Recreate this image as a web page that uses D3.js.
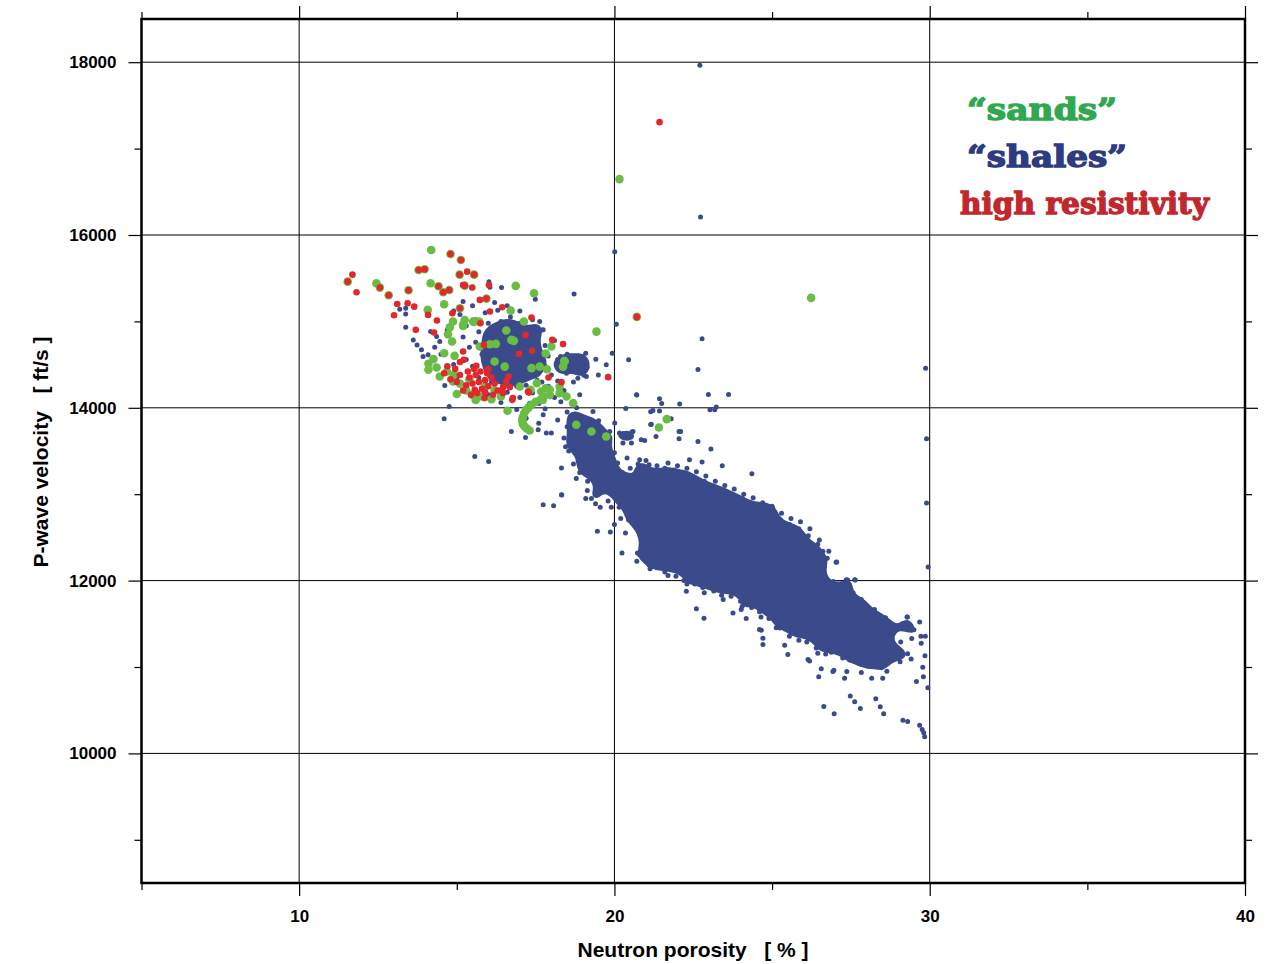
<!DOCTYPE html>
<html>
<head>
<meta charset="utf-8">
<script src="https://cdn.jsdelivr.net/npm/d3@7"></script>
<style>
 body { margin: 0; background: #fff; }
</style>
</head>
<body>
<div id="chart"></div>
<script>
var width = 1277;
var height = 964;

// axis ticks
var xTicks = [10, 20, 30, 40];
var xMinor = [5, 15, 25, 35];
var yTicks = [10000, 12000, 14000, 16000, 18000];
var yMinor = [9000, 11000, 13000, 15000, 17000];

// "shales" : [neutron porosity %, P-wave velocity ft/s]
var shales = [
 // upper left blob
 [15.1,15080],[15.3,14950],[15.2,14820],[15.4,14700],[15.3,14560],[15.5,15180],[15.6,15020],[15.7,14880],[15.6,14760],[15.8,14620],
 [15.5,14480],[15.7,14350],[15.9,15100],[16.0,14980],[16.1,14850],[15.9,14720],[16.2,14600],[16.0,14470],[16.1,14300],[16.3,15130],
 [16.4,15000],[16.3,14900],[16.5,14780],[16.4,14650],[16.6,14520],[16.3,14410],[16.5,14250],[16.7,15050],[16.8,14940],[16.6,14830],
 [16.9,14700],[16.7,14590],[16.9,14460],[16.8,14330],[16.6,14180],[17.0,14980],[17.1,14860],[17.2,14740],[17.0,14620],[17.3,14510],
 [17.1,14390],[17.2,14260],[17.0,14120],[17.4,14890],[17.5,14770],[17.4,14650],[17.6,14540],[17.5,14420],[17.7,14300],[17.4,14170],
 [17.6,14050],[17.8,14720],[17.9,14600],[17.8,14480],[18.0,14380],[17.9,14250],[18.1,14120],[17.8,13990],[18.2,14560],[18.3,14440],
 [18.2,14310],[18.4,14200],[18.3,14070],[18.5,13950],[18.2,13860],
 [15.85,14550],[16.15,14720],[16.45,14550],[16.25,14880],[16.55,14950],[16.75,14450],[16.95,14580],[17.15,14680],[16.35,14480],[16.05,14620],
 [16.65,14700],[16.85,14820],[17.35,14560],[17.55,14320],[16.2,14380],[15.95,14850],[16.6,14380],[17.25,14430],[16.4,14780],[16.9,14250],
 [16.05,14400],[16.25,14520],[16.45,14650],[16.65,14450],[16.85,14560],[17.05,14700],[17.25,14820],[16.15,14800],[16.35,14680],[16.55,14410],
 [16.75,14760],[16.95,14870],[17.15,14540],[17.35,14680],[17.45,14480],[16.3,14580],[16.7,14640],[17.0,14420],[16.5,14860],[16.1,14520],
 [17.2,14600],[16.85,14380],[17.55,14600],[16.4,14350],[16.6,14620],[17.3,14760],[16.9,14520],[16.2,14670],[17.1,14480],[16.75,14900],
 [14.3,14700],[14.5,14620],[14.7,14900],[14.9,15120],[15.0,14350],[14.9,14500],[14.6,14400],[15.2,15230],[15.8,15250],[16.2,15220],
 [16.6,15180],[17.0,15120],[17.4,15020],[17.7,14900],[18.1,14780],[18.5,14620],[18.6,14450],[18.7,14300],[18.9,14150],[18.8,14000],
 [16.0,14150],[16.4,14060],[16.9,13980],[17.2,13880],[17.6,13820],[15.6,14200],[15.3,14250],
 // scatter around the blob
 [13.19,15141],[13.38,15153],[13.38,15087],[13.38,14933],[13.62,14786],[13.74,14728],[13.88,14671],[13.93,14593],[14.09,14613],[14.17,14882],
 [14.36,14825],[14.46,14767],[14.62,14258],[14.76,14015],[14.6,13873],[15.57,13437],[16.01,13379],[16.73,13726],[17.18,13657],[17.74,12879],
 [18.07,12867],[18.33,12991],[18.79,13183],[19.09,12951],[19.27,12951],[19.4,12890],[19.14,13044],[18.32,13303],[18.32,12994],[18.72,15318],
 [16.42,15391],[16.02,15460],[16.05,15396],[20.01,15807],[20.06,14967],[19.93,14632],[20.45,14555],[20.7,14150],[17.49,15257],[17.63,14998],
 [17.74,14902],[18.9,14575],[19.09,14632],[19.11,14477],[18.84,14343],[18.29,14593],[18.58,14575],[18.24,14477],[18.48,14401],[17.54,14921],
 [17.31,14054],[17.74,13919],[17.58,13746],[17.84,13707],[18.0,13707],[18.74,13919],[18.98,13900],[19.32,13958],[19.27,13765],[19.53,13668],
 [19.85,13726],[20.16,13708],[20.43,13688],[20.59,13726],[20.85,13630],[20.96,13622],[20.27,13592],[20.54,13592],[19.41,14563],[19.49,14381],
 [19.74,14497],[19.11,14362],[18.61,14586],[18.88,14563],[19.0,14593],[19.13,14466],[19.03,14378],
 // outliers
 [22.71,17965],[22.73,16208],[22.78,14798],[22.65,14443],[20.71,14147],[21.43,14104],[21.5,14050],[22.07,14043],[22.98,14154],[23.62,14154],
 [20.36,13992],[21.15,13954],[21.22,13969],[21.43,13962],[21.8,13873],[23.03,13977],[23.18,13977],[23.23,14008],[21.15,13807],[22.05,13726],
 [21.32,13668],[20.55,13719],[20.28,13703],[20.01,13823],[21.17,13811],[22.1,13726],[22.05,13642],[22.65,13610],[23.06,13522],[23.42,13329],
 [24.36,13237],[22.38,13399],[22.78,13372],[19.46,12570],[19.87,12563],[20.24,12319],[20.71,12223],[20.73,12320],[21.13,12138],[21.35,12212],
 [22.28,11877],[22.6,11673],[22.84,11564],[24.18,11561],[24.66,11426],[24.71,11333],[24.71,11260],[25.5,11144],[26.14,11087],[26.48,10887],
 [26.93,10948],[27.3,10870],[22.6,12088],[22.91,12050],[23.23,11935],[23.76,11626],[24.02,11665],[24.6,11433],[25.13,11453],[25.55,11356],
 [25.02,12840],[24.87,12821],[24.66,12801],[25.71,12524],[25.98,12320],[26.61,12339],[27.03,12212],[27.35,12011],[27.62,12011],[27.05,12216],
 [27.4,12008],[27.64,12008],[27.11,11904],[27.3,11896],[27.83,11780],[27.88,11742],[28.25,11665],[28.6,11569],[28.51,11530],[29.29,11580],
 [25.4,11253],[26.19,11068],[26.56,10980],[26.96,10963],[27.37,10948],[27.83,10936],[28.16,10871],[28.51,10871],[28.64,10952],
 // neck
 [18.6,13600],[18.8,13480],[18.7,13350],[18.9,13700],[19.0,13560],[19.1,13420],[19.0,13290],[19.2,13800],[19.3,13650],[19.2,13520],
 [19.4,13380],[19.3,13250],[19.5,13120],[19.4,13000],[19.6,13720],[19.7,13580],[19.6,13450],[19.8,13320],[19.7,13180],[19.9,13050],
 [19.8,12920],[20.0,13480],[20.1,13360],[20.0,13230],[20.2,13110],[20.1,12980],[20.3,12850],[20.2,12720],[20.4,13420],[20.5,13300],
 [20.4,13170],[20.6,13050],[20.5,12920],[20.7,12800],[20.6,12660],[20.8,12530],[18.5,13780],[18.4,13650],[18.9,13250],[19.15,13150],
 [19.55,12850],[20.0,12650],[20.35,12550],[19.5,13850],[18.6,13900],[19.85,13600],[18.95,13850],
 [18.55,13500],[18.75,13620],[18.65,13750],[18.85,13380],[19.05,13680],[19.15,13300],[19.25,13580],[19.35,13460],[19.45,13720],[19.45,13200],
 [19.55,13540],[19.65,13300],[19.75,13460],[19.65,13050],[19.85,13200],[19.95,13400],[19.9,12850],[20.05,13100],[20.15,12850],[20.25,13250],
 [20.3,12980],[20.45,13050],[20.55,12780],[20.6,13200],[20.7,12950],[20.75,13350],[20.8,12680],[20.45,12700],[18.45,13550],[18.9,13580],
 [19.05,13780],[19.35,13820],[18.7,13800],
 // main band
 [20.9,12380],[20.96,12490],[20.85,12600],[20.93,12705],[20.87,12820],[20.97,12930],[20.86,13040],[20.94,13160],[20.89,13270],
 [21.22,12300],[21.16,12410],[21.25,12520],[21.18,12640],[21.24,12750],[21.15,12860],[21.23,12975],[21.17,13090],[21.26,13200],
 [21.5,12220],[21.55,12335],[21.46,12450],[21.53,12560],[21.48,12670],[21.56,12790],[21.47,12900],[21.54,13010],[21.49,13120],[21.52,13215],
 [21.82,12180],[21.76,12290],[21.84,12400],[21.78,12515],[21.85,12630],[21.77,12740],[21.83,12850],[21.79,12965],[21.86,13075],[21.8,13180],
 [22.1,12140],[22.15,12250],[22.06,12365],[22.13,12480],[22.08,12590],[22.16,12700],[22.07,12815],[22.14,12925],[22.09,13040],[22.12,13150],
 [22.42,12090],[22.36,12200],[22.44,12310],[22.38,12425],[22.45,12540],[22.37,12650],[22.43,12760],[22.39,12875],[22.46,12985],[22.4,13100],
 [22.7,12050],[22.75,12160],[22.66,12275],[22.73,12385],[22.68,12500],[22.76,12610],[22.67,12720],[22.74,12835],[22.69,12945],[22.72,13060],
 [23.02,12010],[22.96,12120],[23.04,12235],[22.98,12345],[23.05,12460],[22.97,12570],[23.03,12685],[22.99,12795],[23.06,12905],[23.0,13015],
 [23.3,11975],[23.35,12085],[23.26,12195],[23.33,12310],[23.28,12420],[23.36,12535],[23.27,12645],[23.34,12755],[23.29,12865],[23.32,12965],
 [23.62,11935],[23.56,12045],[23.64,12160],[23.58,12270],[23.65,12385],[23.57,12495],[23.63,12605],[23.59,12720],[23.66,12830],[23.6,12920],
 [23.9,11895],[23.95,12005],[23.86,12120],[23.93,12230],[23.88,12345],[23.96,12455],[23.87,12570],[23.94,12680],[23.89,12790],[23.92,12860],
 [24.22,11840],[24.16,11950],[24.24,12065],[24.18,12175],[24.25,12290],[24.17,12400],[24.23,12515],[24.19,12625],[24.26,12735],[24.2,12810],
 [24.5,11770],[24.55,11880],[24.46,11995],[24.53,12105],[24.48,12220],[24.56,12330],[24.47,12445],[24.54,12555],[24.49,12665],[24.52,12740],
 [24.82,11700],[24.76,11810],[24.84,11925],[24.78,12035],[24.85,12150],[24.77,12260],[24.83,12375],[24.79,12485],[24.86,12595],[24.8,12670],
 [25.1,11640],[25.15,11750],[25.06,11865],[25.13,11975],[25.08,12090],[25.16,12200],[25.07,12315],[25.14,12425],[25.09,12535],[25.12,12610],
 [25.42,11560],[25.36,11670],[25.44,11785],[25.38,11895],[25.45,12010],[25.37,12120],[25.43,12235],[25.39,12345],[25.46,12455],[25.4,12565],
 [25.7,11490],[25.75,11600],[25.66,11715],[25.73,11825],[25.68,11940],[25.76,12050],[25.67,12165],[25.74,12275],[25.69,12390],[25.72,12520],
 [26.02,11420],[25.96,11530],[26.04,11645],[25.98,11755],[26.05,11870],[25.97,11980],[26.03,12095],[25.99,12205],[26.06,12320],[26.0,12450],
 [26.3,11345],[26.35,11455],[26.26,11570],[26.33,11680],[26.28,11795],[26.36,11905],[26.27,12020],[26.34,12130],[26.29,12240],[26.32,12330],
 [26.62,11270],[26.56,11380],[26.64,11495],[26.58,11605],[26.65,11720],[26.57,11830],[26.63,11945],[26.59,12055],[26.66,12160],
 // main band, crowded middle
 [21.05,12400],[21.08,12510],[21.03,12620],[21.07,12730],[21.02,12840],[21.06,12950],[21.04,13060],[21.08,13170],
 [21.35,12350],[21.32,12460],[21.37,12570],[21.33,12680],[21.38,12790],[21.34,12900],[21.36,13010],[21.31,13120],
 [21.65,12290],[21.68,12400],[21.63,12510],[21.67,12620],[21.62,12730],[21.66,12840],[21.64,12950],[21.68,13060],[21.63,13150],
 [21.95,12250],[21.92,12360],[21.97,12470],[21.93,12580],[21.98,12690],[21.94,12800],[21.96,12910],[21.91,13020],[21.95,13110],
 [22.25,12200],[22.28,12310],[22.23,12420],[22.27,12530],[22.22,12640],[22.26,12750],[22.24,12860],[22.28,12970],[22.23,13070],
 [22.55,12150],[22.52,12260],[22.57,12370],[22.53,12480],[22.58,12590],[22.54,12700],[22.56,12810],[22.51,12920],[22.55,13030],
 [22.85,12110],[22.88,12220],[22.83,12330],[22.87,12440],[22.82,12550],[22.86,12660],[22.84,12770],[22.88,12880],[22.83,12990],
 [23.15,12080],[23.12,12190],[23.17,12300],[23.13,12410],[23.18,12520],[23.14,12630],[23.16,12740],[23.11,12850],[23.15,12950],
 [23.45,12040],[23.48,12150],[23.43,12260],[23.47,12370],[23.42,12480],[23.46,12590],[23.44,12700],[23.48,12810],[23.43,12900],
 [23.75,12000],[23.72,12110],[23.77,12220],[23.73,12330],[23.78,12440],[23.74,12550],[23.76,12660],[23.71,12770],[23.75,12850],
 [24.05,11950],[24.08,12060],[24.03,12170],[24.07,12280],[24.02,12390],[24.06,12500],[24.04,12610],[24.08,12720],[24.03,12790],
 [24.35,11890],[24.32,12000],[24.37,12110],[24.33,12220],[24.38,12330],[24.34,12440],[24.36,12550],[24.31,12660],[24.35,12730],
 [24.65,11820],[24.68,11930],[24.63,12040],[24.67,12150],[24.62,12260],[24.66,12370],[24.64,12480],[24.68,12590],[24.63,12660],
 [24.95,11750],[24.92,11860],[24.97,11970],[24.93,12080],[24.98,12190],[24.94,12300],[24.96,12410],[24.91,12520],[24.95,12590],
 [25.25,11680],[25.28,11790],[25.23,11900],[25.27,12010],[25.22,12120],[25.26,12230],[25.24,12340],[25.28,12450],[25.23,12530],
 [25.55,11610],[25.52,11720],[25.57,11830],[25.53,11940],[25.58,12050],[25.54,12160],[25.56,12270],[25.51,12380],[25.55,12470],
 [25.85,11540],[25.88,11650],[25.83,11760],[25.87,11870],[25.82,11980],[25.86,12090],[25.84,12200],[25.88,12310],[25.83,12410],
 [26.15,11470],[26.12,11580],[26.17,11690],[26.13,11800],[26.18,11910],[26.14,12020],[26.16,12130],[26.11,12240],[26.15,12330],
 [26.45,11400],[26.48,11510],[26.43,11620],[26.47,11730],[26.42,11840],[26.46,11950],[26.44,12060],[26.48,12160],
 // band fringe, upper side
 [20.8,13400],[21.0,13390],[21.1,13340],[21.35,13330],[21.6,13300],[21.7,13360],[21.9,13280],[22.0,13330],[22.25,13240],[22.3,13300],
 [22.55,13190],[22.6,13260],[22.85,13150],[22.9,13210],[23.15,13080],[23.2,13150],[23.45,13040],[23.5,13100],[23.75,12990],[23.8,13060],
 [24.05,12950],[24.1,13000],[24.35,12880],[24.4,12960],[24.65,12830],[24.7,12900],[24.95,12760],[25.0,12860],[25.25,12700],[25.3,12780],
 [25.55,12650],[25.6,12720],[25.85,12600],[25.9,12680],[26.15,12520],[26.2,12600],[26.45,12420],[26.5,12470],[26.75,12260],[26.8,12340],
 // band fringe, lower side
 [20.8,12300],[21.0,12240],[21.1,12180],[21.35,12150],[21.6,12100],[21.7,12060],[21.95,12050],[22.2,12000],[22.3,11960],[22.55,11960],
 [22.8,11920],[22.85,11860],[23.15,11880],[23.4,11830],[23.45,11780],[23.7,11820],[24.0,11760],[24.05,11700],[24.35,11690],[24.6,11640],
 [24.65,11580],[24.9,11560],[25.2,11510],[25.25,11450],[25.5,11430],[25.8,11370],[25.85,11310],[26.1,11290],[26.4,11220],[26.45,11160],[26.7,11150],
 // lower right part of the band
 [26.88,11170],[26.97,11300],[26.84,11395],[26.95,11530],[26.9,11620],[26.99,11770],[26.85,11860],[26.94,11990],
 [27.24,11105],[27.13,11235],[27.27,11380],[27.15,11455],[27.28,11600],[27.12,11690],[27.25,11830],
 [27.46,11080],[27.58,11200],[27.43,11310],[27.55,11440],[27.5,11530],[27.6,11660],[27.42,11760],[27.57,11860],
 [27.85,11030],[27.72,11140],[27.88,11290],[27.75,11380],[27.9,11510],[27.74,11600],[27.86,11740],
 [28.05,11010],[28.18,11145],[28.02,11240],[28.15,11360],[28.05,11495],[28.2,11590],[28.03,11680],
 [28.46,10990],[28.33,11110],[28.48,11245],[28.34,11340],[28.5,11470],[28.35,11560],
 [28.66,11040],[28.79,11160],[28.62,11250],[28.77,11390],[28.65,11500],
 [29.06,11060],[28.93,11200],[29.08,11290],[28.95,11430],
 [26.75,11330],[26.78,11450],[26.73,11570],[26.77,11690],[26.72,11810],[26.76,11930],
 [27.05,11230],[27.08,11350],[27.03,11470],[27.07,11590],[27.02,11710],[27.06,11830],
 [27.35,11180],[27.32,11300],[27.37,11420],[27.33,11540],[27.38,11660],[27.34,11770],
 [27.65,11110],[27.68,11240],[27.63,11350],[27.67,11470],[27.62,11580],[27.66,11700],
 [27.95,11090],[27.92,11210],[27.97,11330],[27.93,11450],[27.98,11560],
 [28.25,11060],[28.28,11190],[28.23,11300],[28.27,11420],[28.22,11530],
 [28.55,11080],[28.58,11200],[28.53,11320],[28.57,11440],
 // right edge and tail
 [29.8,10887],[29.78,10998],[29.58,10832],[29.85,11130],[29.73,11275],[29.72,11356],[29.86,11356],[29.68,11522],[29.28,11580],[29.4,11460],
 [29.5,11430],[29.13,11500],[29.2,11480],[29.43,11329],[29.3,11152],[29.15,11144],[28.99,11125],[29.41,11094],
 [27.48,10663],[27.62,10598],[27.8,10520],[26.64,10543],[26.97,10459],[28.29,10632],[28.43,10540],[28.54,10459],[29.15,10385],[29.3,10370],
 [29.68,10327],[29.76,10277],[29.81,10239],[29.84,10193],
 [29.87,14459],[29.9,13642],[29.9,12898],[29.95,12158],[29.94,10759]
];

// "sands"
var sands = [
 [14.19,15827],[14.8,15780],[15.13,15711],[13.79,15595],[13.98,15603],[15.09,15541],[15.55,15541],[11.54,15460],[12.45,15441],[12.56,15391],
 [12.84,15302],[13.47,15360],[14.17,15441],[14.42,15407],[14.57,15337],[14.76,15364],[15.25,15414],[14.6,15199],[14.08,15133],[15.1,15153],
 [15.94,15264],[14.88,14998],[15.25,15017],[15.54,14994],[15.71,14998],[14.78,14933],[14.72,14852],[14.85,14767],[15.2,14948],[14.1,14509],
 [14.26,14563],[14.36,14466],[14.1,14440],[14.6,14632],[14.93,14601],[14.46,14362],[14.69,14420],[14.88,14304],
 [14.9,14380],[15.1,14280],[15.3,14200],[15.5,14150],[15.8,14130],[16.1,14100],[16.4,14130],[15.0,14160],[15.6,14090],[16.2,14200],
 [15.4,14330],[15.9,14250],
 [16.87,15411],[17.45,15326],[16.71,15125],[17.13,14998],[17.82,14628],[18.0,14709],[16.2,14535],[16.52,14477],[16.57,14894],[16.81,14775],
 [16.24,14740],[16.05,14736],[15.73,14709],[17.37,14459],[17.63,14477],[17.86,14447],[17.0,14247],[17.34,14208],[17.68,14188],[17.95,14208],
 [18.26,14247],[18.26,14170],[18.48,14131],[18.69,14054],[18.79,13804],[19.27,13726],[19.74,13668],[16.61,13965],[18.42,14535],[19.43,14882],
 [17.95,14150],[17.74,14131],[17.65,14093],[17.37,14035],[17.21,13977],[17.1,13900],[17.08,13842],[17.15,13784],[17.31,13738],
 [17.5,14070],[17.28,14005],[17.14,13940],[17.08,13870],[17.1,13810],[17.22,13760],[17.54,14285],[17.82,14227],[18.37,14477],[16.73,14786],
 [15.52,14998],[15.2,14960],[17.73,14092],
 [20.16,16647],[26.24,15272],[20.71,15052],[18.41,14543],[21.66,13869],[21.41,13772]
];

// "high resistivity"
var highRes = [
 [11.69,15541],[11.82,15337],[11.54,15460],[12.56,15391],[12.84,15302],[13.47,15360],[13.11,15202],[13.44,15210],[13.65,15171],[13.01,15071],
 [13.7,14902],[14.28,14871],[14.37,15010],[14.09,15075],[14.8,15780],[15.13,15711],[13.79,15595],[13.98,15603],[15.09,15541],[15.55,15541],
 [15.33,15576],[15.49,15391],[14.42,15407],[14.57,15337],[14.76,15364],[15.25,15414],[15.1,15153],[15.94,15264],[15.2,15422],[16.02,15422],
 [15.73,15249],[16.44,15164],[16.05,15114],[17.37,15044],[17.18,14844],[18.03,14786],[18.37,14737],[17.39,14659],[16.97,14624],[15.75,14979],
 [15.86,14728],[15.2,14651],[17.91,14350],[18.32,14297],[17.26,14188],[16.78,14112],[16.47,14239],[16.68,14239],[16.57,14304],[16.64,14362],
 [15.88,14112],[16.15,14150],[15.57,14208],[19.8,14355],[15.22,14555],[15.62,14486],[15.96,14401],[21.43,17306],[20.71,15052],[14.86,15094],
 [14.6,14400],[14.8,14330],[15.0,14300],[15.1,14380],[15.3,14260],[15.4,14350],[15.5,14280],[15.6,14380],[15.7,14300],[15.8,14220],
 [15.9,14320],[16.0,14250],[16.1,14350],[15.2,14200],[15.45,14150],[15.65,14170],[15.9,14180],[16.2,14280],[16.3,14200],[15.35,14420],
 [15.55,14450],[14.95,14450],[15.75,14420],[16.0,14450],[14.7,14480],[15.1,14530],[16.47,14170],[16.76,14092],[17.28,14176]
];

var legend = [
 {text: "\u201csands\u201d", color: "#2fa84f", len: 150},
 {text: "\u201cshales\u201d", color: "#2e3b80", len: 160},
 {text: "high resistivity", color: "#c1272d", len: 249}
];

var plotL = 141.5, plotR = 1245, plotT = 19, plotB = 883;

var svg = d3.select("#chart")
 .append("svg")
 .attr("width", width)
 .attr("height", height)
 .style("font-family", "'Liberation Sans', Arial, sans-serif");

var x = d3.scaleLinear().domain([5, 40]).range([plotL, plotR]);
var y = d3.scaleLinear().domain([8500, 18500]).range([plotB, plotT]);

// grid
svg.append("g").selectAll("line")
 .data(xTicks.filter(d => d < 40))
 .enter().append("line")
 .attr("x1", d => x(d)).attr("x2", d => x(d))
 .attr("y1", plotT).attr("y2", plotB)
 .attr("stroke", "#000").attr("stroke-width", 1);
svg.append("g").selectAll("line")
 .data(yTicks)
 .enter().append("line")
 .attr("x1", plotL).attr("x2", plotR)
 .attr("y1", d => y(d)).attr("y2", d => y(d))
 .attr("stroke", "#000").attr("stroke-width", 1);

// where the shale points pile up they merge into a solid mass:
// kernel sum of the points on a 2px grid, filled above a crowding level
var blue = "#3a4a8b";
var cell = 2, bw = 8, crowdLevel = 5;
var gw = Math.ceil(width / cell), gh = Math.ceil(height / cell);
var grid = new Float64Array(gw * gh);
shales.forEach(function(d) {
 var px = x(d[0]), py = y(d[1]);
 var i0 = Math.max(0, Math.floor((px - 3 * bw) / cell)), i1 = Math.min(gw - 1, Math.ceil((px + 3 * bw) / cell));
 var j0 = Math.max(0, Math.floor((py - 3 * bw) / cell)), j1 = Math.min(gh - 1, Math.ceil((py + 3 * bw) / cell));
 for (var j = j0; j <= j1; j++) {
  for (var i = i0; i <= i1; i++) {
   var dx = (i + 0.5) * cell - px, dy = (j + 0.5) * cell - py;
   grid[j * gw + i] += Math.exp(-(dx * dx + dy * dy) / (2 * bw * bw));
  }
 }
});
var core = d3.contours().size([gw, gh]).thresholds([crowdLevel])(grid);
svg.append("g").selectAll("path")
 .data(core)
 .enter().append("path")
 .attr("d", d3.geoPath(d3.geoIdentity().scale(cell)))
 .attr("fill", blue);

// points
svg.append("g").selectAll("circle")
 .data(shales)
 .enter().append("circle")
 .attr("cx", d => x(d[0])).attr("cy", d => y(d[1]))
 .attr("r", 2.5).attr("fill", blue);
svg.append("g").selectAll("circle")
 .data(sands)
 .enter().append("circle")
 .attr("cx", d => x(d[0])).attr("cy", d => y(d[1]))
 .attr("r", 4.3).attr("fill", "#69bd45");
svg.append("g").selectAll("circle")
 .data(highRes)
 .enter().append("circle")
 .attr("cx", d => x(d[0])).attr("cy", d => y(d[1]))
 .attr("r", 3.3).attr("fill", "#e2282b");

// axes
function styleAxis(g) {
 g.select(".domain").remove();
 g.selectAll(".tick line").attr("stroke", "#000").attr("stroke-width", 1.2);
 g.selectAll("text").attr("font-size", 17).attr("font-weight", "bold").attr("fill", "#000");
}
svg.append("g").attr("transform", "translate(0," + plotB + ")")
 .call(d3.axisBottom(x).tickValues(xTicks).tickSize(13).tickPadding(14).tickFormat(d3.format("d")))
 .call(styleAxis);
svg.append("g").attr("transform", "translate(0," + plotB + ")")
 .call(d3.axisBottom(x).tickValues(xMinor).tickSize(7).tickFormat(""))
 .call(styleAxis);
svg.append("g").attr("transform", "translate(0," + plotT + ")")
 .call(d3.axisTop(x).tickValues(xTicks).tickSize(13).tickFormat(""))
 .call(styleAxis);
svg.append("g").attr("transform", "translate(0," + plotT + ")")
 .call(d3.axisTop(x).tickValues(xMinor).tickSize(7).tickFormat(""))
 .call(styleAxis);
svg.append("g").attr("transform", "translate(" + plotL + ",0)")
 .call(d3.axisLeft(y).tickValues(yTicks).tickSize(13).tickPadding(12).tickFormat(d3.format("d")))
 .call(styleAxis);
svg.append("g").attr("transform", "translate(" + plotL + ",0)")
 .call(d3.axisLeft(y).tickValues(yMinor).tickSize(7).tickFormat(""))
 .call(styleAxis);
svg.append("g").attr("transform", "translate(" + plotR + ",0)")
 .call(d3.axisRight(y).tickValues(yTicks).tickSize(13).tickFormat(""))
 .call(styleAxis);
svg.append("g").attr("transform", "translate(" + plotR + ",0)")
 .call(d3.axisRight(y).tickValues(yMinor).tickSize(7).tickFormat(""))
 .call(styleAxis);

// frame
svg.append("rect")
 .attr("x", plotL).attr("y", plotT)
 .attr("width", plotR - plotL).attr("height", plotB - plotT)
 .attr("fill", "none").attr("stroke", "#000").attr("stroke-width", 2.5);

// axis titles
svg.append("text")
 .attr("x", 693).attr("y", 957)
 .attr("text-anchor", "middle")
 .attr("font-size", 21).attr("font-weight", "bold")
 .style("white-space", "pre")
 .text("Neutron porosity   [ % ]");
svg.append("text")
 .attr("transform", "translate(48,452) rotate(-90)")
 .attr("text-anchor", "middle")
 .attr("font-size", 21).attr("font-weight", "bold")
 .style("white-space", "pre")
 .text("P-wave velocity   [ ft/s ]");

// legend
svg.append("g").selectAll("text")
 .data(legend)
 .enter().append("text")
 .attr("x", (d, i) => i == 2 ? 960 : 967)
 .attr("y", (d, i) => 120 + i * 47)
 .attr("font-family", "'DejaVu Serif', serif")
 .attr("font-weight", "bold")
 .attr("font-size", 29)
 .attr("textLength", d => d.len)
 .attr("lengthAdjust", "spacingAndGlyphs")
 .attr("fill", d => d.color)
 .attr("stroke", d => d.color)
 .attr("stroke-width", 1.3)
 .text(d => d.text);
</script>
</body>
</html>
